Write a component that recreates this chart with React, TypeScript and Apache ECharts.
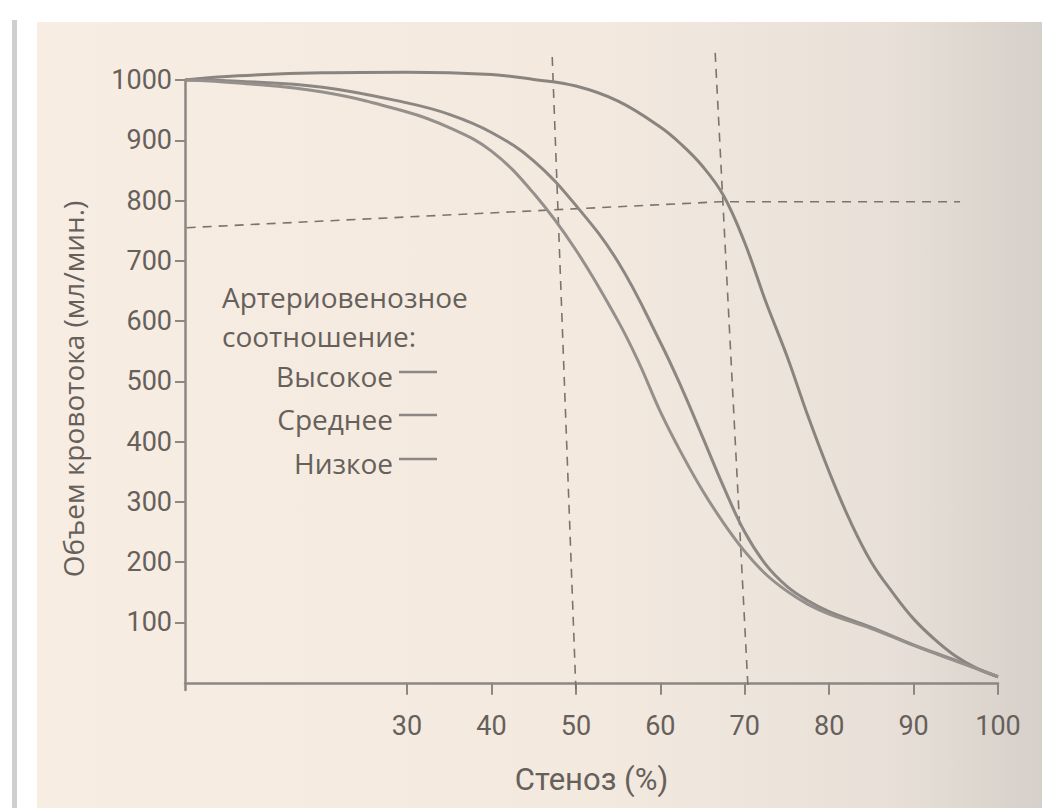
import React, { useEffect, useRef } from "react";
import * as echarts from "echarts";

// Стеноз (%) -> Объем кровотока (мл/мин.)
const highFlow: [number, number][] = [
  [3.7, 1000], [10, 1007], [20, 1012], [30, 1013], [40, 1009], [45, 1001],
  [50, 990], [55, 965], [60, 922], [62.5, 893], [65, 857], [67.5, 808],
  [70, 730], [72.5, 632], [75, 542], [77.5, 442], [80, 350], [82.5, 268],
  [85, 200], [87.5, 150], [90, 106], [92.5, 72], [95, 44], [97.5, 24], [100, 10],
];
const mediumFlow: [number, number][] = [
  [3.7, 1000], [10, 998], [20, 988], [30, 962], [35, 943], [40, 913],
  [45, 866], [50, 792], [55, 698], [60, 565], [62.5, 490], [65, 408],
  [67.5, 325], [70, 250], [72.5, 196], [75, 160], [77.5, 136], [80, 118],
  [85, 92], [90, 63], [95, 37], [100, 10],
];
const lowFlow: [number, number][] = [
  [3.7, 1000], [10, 995], [20, 980], [30, 947], [35, 921], [40, 882],
  [45, 812], [50, 718], [55, 600], [57.5, 530], [60, 450], [62.5, 381],
  [65, 319], [67.5, 265], [70, 218], [72.5, 180], [75, 152], [77.5, 130],
  [80, 114], [85, 90], [90, 62], [95, 36], [100, 10],
];
// reference (dashed) lines
const flowThreshold: [number, number][] = [[3.9, 755], [67.1, 798], [95.5, 798]];
const stenosis50: [number, number][] = [[47.2, 1038], [50.0, -12]];
const stenosis70: [number, number][] = [[66.5, 1045], [70.4, -12]];

const xTicks = [30, 40, 50, 60, 70, 80, 90, 100];
const yTicks = [100, 200, 300, 400, 500, 600, 700, 800, 900, 1000];
const legendNames = ["Высокое", "Среднее", "Низкое"];

const LINE = "#8c8782";
const TEXT = "#66605b";
const DASH = "#7a746f";
const AXIS_FONT = "Roboto, 'Noto Sans', sans-serif";
const LEGEND_FONT = "'Open Sans', 'Noto Sans', sans-serif";

export default function App() {
  const ref = useRef<HTMLDivElement>(null);
  useEffect(() => {
    if (!ref.current) return;
    const chart = echarts.init(ref.current, undefined, { renderer: "svg" });
    const curve = (name: string, data: [number, number][], color: string) => ({
      name,
      type: "line",
      data,
      smooth: 0.4,
      showSymbol: false,
      clip: false,
      lineStyle: { color, width: 3 },
      z: 3,
    });
    const dashed = (name: string, data: [number, number][]) => ({
      name,
      type: "line",
      data,
      showSymbol: false,
      clip: false,
      silent: true,
      lineStyle: { color: DASH, width: 1.6, type: [9, 7] },
      z: 2,
    });
    const legendTextY = [376, 419, 463];
    const legendLineY = [372, 415, 459];
    const graphics: any[] = [
      {
        type: "rect",
        silent: true,
        z: -10,
        shape: { x: 37, y: 22, width: 1005, height: 786 },
        style: {
          fill: new echarts.graphic.LinearGradient(0, 0, 1, 0, [
            { offset: 0, color: "#f7ede3" },
            { offset: 0.55, color: "#f3e9df" },
            { offset: 0.85, color: "#e8e0d8" },
            { offset: 1, color: "#d6d0ca" },
          ]),
        },
      },
      {
        type: "rect",
        silent: true,
        z: -10,
        shape: { x: 12, y: 20, width: 5, height: 788 },
        style: { fill: "#cfcfcf" },
      },
      {
        type: "text",
        x: 222,
        y: 297,
        style: {
          text: "Артериовенозное",
          font: `28px ${LEGEND_FONT}`,
          fill: TEXT,
          verticalAlign: "middle",
        },
      },
      {
        type: "text",
        x: 222,
        y: 336,
        style: {
          text: "соотношение:",
          font: `28px ${LEGEND_FONT}`,
          fill: TEXT,
          verticalAlign: "middle",
        },
      },
    ];
    legendNames.forEach((n, i) => {
      graphics.push({
        type: "text",
        x: 393,
        y: legendTextY[i],
        style: {
          text: n,
          font: `28px ${LEGEND_FONT}`,
          fill: TEXT,
          align: "right",
          verticalAlign: "middle",
        },
      });
      graphics.push({
        type: "line",
        shape: { x1: 399, y1: legendLineY[i], x2: 437, y2: legendLineY[i] },
        style: { stroke: LINE, lineWidth: 2.5 },
      });
    });

    chart.setOption({
      animation: false,
      backgroundColor: "#ffffff",
      grid: { left: 185, right: 44, top: 80, bottom: 118 },
      xAxis: {
        type: "value",
        min: 3.7,
        max: 100,
        name: "Стеноз (%)",
        nameLocation: "middle",
        nameGap: 74,
        nameTextStyle: {
          fontFamily: AXIS_FONT,
          fontSize: 31,
          color: TEXT,
        },
        axisLine: { show: true, lineStyle: { color: LINE, width: 2.5 } },
        axisTick: {
          show: true,
          customValues: xTicks,
          length: 12,
          lineStyle: { color: LINE, width: 2 },
        },
        axisLabel: {
          customValues: xTicks,
          margin: 22,
          fontFamily: AXIS_FONT,
          fontSize: 27,
          color: TEXT,
          formatter: (v: number) => String(v),
        },
        splitLine: { show: false },
      },
      yAxis: {
        type: "value",
        min: -12,
        max: 1000,
        name: "Объем кровотока (мл/мин.)",
        nameLocation: "middle",
        nameGap: 98,
        nameRotate: 90,
        nameTextStyle: {
          fontFamily: LEGEND_FONT,
          fontSize: 28,
          color: TEXT,
          padding: [0, 8, 0, 0],
        },
        axisLine: { show: true, lineStyle: { color: LINE, width: 2.5 } },
        axisTick: {
          show: true,
          customValues: yTicks,
          length: 10,
          lineStyle: { color: LINE, width: 2 },
        },
        axisLabel: {
          customValues: yTicks,
          margin: 13,
          fontFamily: AXIS_FONT,
          fontSize: 27,
          color: TEXT,
          formatter: (v: number) => String(v),
        },
        splitLine: { show: false },
      },
      series: [
        curve("Высокое", highFlow, "#8a847f"),
        curve("Среднее", mediumFlow, LINE),
        curve("Низкое", lowFlow, "#95908b"),
        dashed("Порог", flowThreshold),
        dashed("Стеноз 50%", stenosis50),
        dashed("Стеноз 70%", stenosis70),
      ],
      graphic: graphics,
    });
    return () => chart.dispose();
  }, []);
  return (
    <div
      ref={ref}
      style={{ position: "absolute", left: 0, top: 0, width: 1042, height: 808 }}
    />
  );
}
